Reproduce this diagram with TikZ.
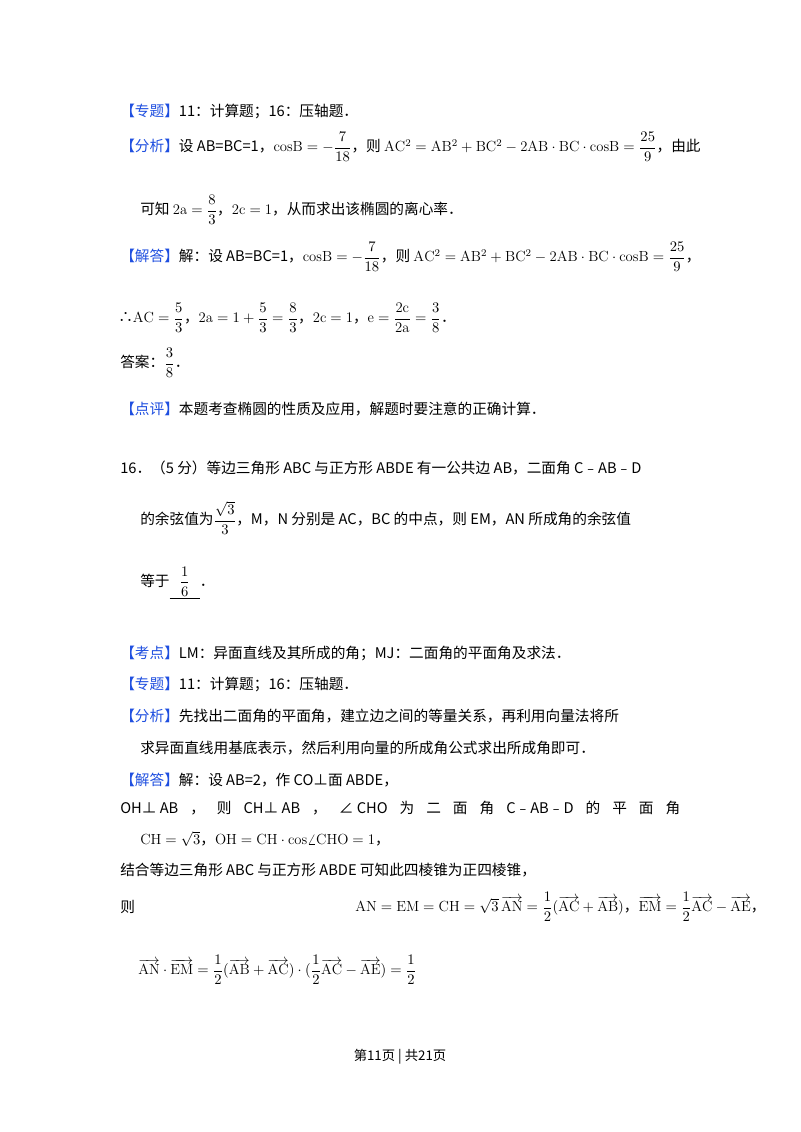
\documentclass[tikz,border=0pt]{standalone}
\usepackage{fontspec}
\usepackage{amsmath}
\setsansfont{Noto Sans CJK SC}
\newfontfamily\cjk{Noto Sans CJK SC}
\definecolor{hd}{HTML}{1F4FE0}
\newcommand{\hdr}[1]{{\color{hd}【#1】}}
\newcommand{\va}[1]{\overrightarrow{\mathrm{#1}}}
\begin{document}
\begin{tikzpicture}[x=0.75pt,y=-0.75pt,
  t/.style={anchor=west,inner sep=0pt,font=\cjk\fontsize{11}{13}\selectfont}]
\useasboundingbox (0,0) rectangle (800,1132);
\fill[white] (0,0) rectangle (800,1132);
\node[t] (l1) at (120,111) {\hdr{专题}11：计算题；16：压轴题．};
\node[t] (l2) at (120,147) {\hdr{分析}设 AB=BC=1，$\mathrm{cosB}=-\dfrac{7}{18}$，则 $\mathrm{AC^2=AB^2+BC^2-2AB\cdot BC\cdot cosB}=\dfrac{25}{9}$，由此};
\node[t] (l3) at (140,210) {可知 $\mathrm{2a}=\dfrac{8}{3}$，$\mathrm{2c=1}$，从而求出该椭圆的离心率．};
\node[t] (l4) at (120,257) {\hdr{解答}解：设 AB=BC=1，$\mathrm{cosB}=-\dfrac{7}{18}$，则 $\mathrm{AC^2=AB^2+BC^2-2AB\cdot BC\cdot cosB}=\dfrac{25}{9}$，};
\node[t] (l5) at (118,318) {∴$\mathrm{AC}=\dfrac{5}{3}$，$\mathrm{2a}=1+\dfrac{5}{3}=\dfrac{8}{3}$，$\mathrm{2c=1}$，$\mathrm{e}=\dfrac{\mathrm{2c}}{\mathrm{2a}}=\dfrac{3}{8}$．};
\node[t] (l6) at (120,363) {答案：$\dfrac{3}{8}$．};
\node[t] (l7) at (120,409) {\hdr{点评}本题考查椭圆的性质及应用，解题时要注意的正确计算．};
\node[t] (l8) at (120,468) {16．（5 分）等边三角形 ABC 与正方形 ABDE 有一公共边 AB，二面角 C﹣AB﹣D};
\node[t] (l9) at (140,518) {的余弦值为$\dfrac{\sqrt{3}}{3}$，M，N 分别是 AC，BC 的中点，则 EM，AN 所成角的余弦值};
\node[t] (l10) at (140,583) {等于\underline{\ \ \ $\dfrac{1}{6}$\ \ \ }．};
\node[t] (l11) at (120,653) {\hdr{考点}LM：异面直线及其所成的角；MJ：二面角的平面角及求法．};
\node[t] (l12) at (120,684) {\hdr{专题}11：计算题；16：压轴题．};
\node[t] (l13) at (120,716) {\hdr{分析}先找出二面角的平面角，建立边之间的等量关系，再利用向量法将所};
\node[t] (l14) at (140,748) {求异面直线用基底表示，然后利用向量的所成角公式求出所成角即可．};
\node[t] (l15) at (120,780) {\hdr{解答}解：设 AB=2，作 CO⊥面 ABDE，};
\node[t] (l16) at (120,808) {\makebox[420pt][s]{OH⊥\ AB\hfill ，\hfill 则\hfill CH⊥\ AB\hfill ，\hfill ∠\ CHO\hfill 为\hfill 二\hfill 面\hfill 角\hfill C﹣AB﹣D\hfill 的\hfill 平\hfill 面\hfill 角}};
\node[t] (l17) at (140,839) {$\mathrm{CH}=\sqrt{3}$，$\mathrm{OH=CH\cdot cos\angle CHO=1}$，};
\node[t] (l18) at (120,870) {结合等边三角形 ABC 与正方形 ABDE 可知此四棱锥为正四棱锥，};
\node[t] (l19) at (120,907) {则};
\node[t] (l20) at (355,907) {$\mathrm{AN=EM=CH}=\sqrt{3}\,\va{AN}=\dfrac{1}{2}(\va{AC}+\va{AB})$，$\va{EM}=\dfrac{1}{2}\va{AC}-\va{AE}$，};
\node[t] (l21) at (138,970) {$\va{AN}\cdot\va{EM}=\dfrac{1}{2}(\va{AB}+\va{AC})\cdot(\dfrac{1}{2}\va{AC}-\va{AE})=\dfrac{1}{2}$};
\node[t,anchor=center,font=\cjk\fontsize{10}{12}\selectfont] (ft) at (400,1057) {第11页 | 共21页};
\end{tikzpicture}
\end{document}
